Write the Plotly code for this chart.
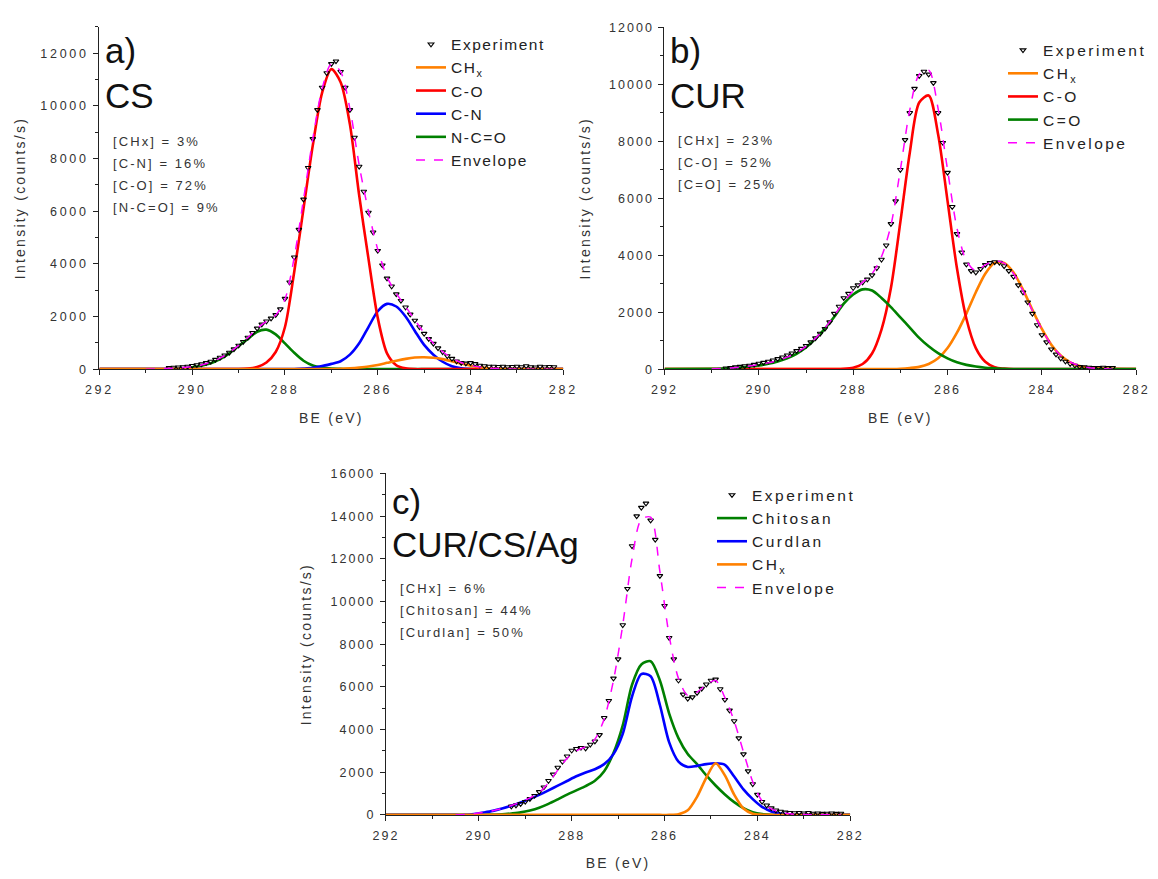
import numpy as np
import plotly.graph_objects as go

W, H = 1158, 879
FONT = "Liberation Sans, Arial, sans-serif"

# ---------------------------------------------------------------------------
# (a) CS  -- experimental C 1s points, 0.1 eV step from 290.5 eV
exp_a = [50, 60, 70, 80, 100, 130, 160, 190, 240, 290,
         360, 440, 530, 630, 760, 900, 1040, 1200, 1380, 1550,
         1700, 1820, 1930, 2060, 2280, 2680, 3300, 4250, 5300, 6450,
         7650, 8750, 9850, 10700, 11250, 11600, 11700, 11300, 10700, 9850,
         8800, 7700, 6750, 5950, 5200, 4500, 3950, 3450, 3150, 2850,
         2600, 2350, 2080, 1850, 1600, 1350, 1150, 970, 800, 650,
         500, 400, 300, 240, 220, 240, 200, 140, 120, 100,
         100, 90, 100, 80, 90, 100, 80, 120, 80, 70,
         100, 80, 90, 80]
exp_a_start = 290.5

# fitted components of (a) on a 0.2 eV grid from 291.0 to 283.0 eV
chx_a = [0, 0, 0, 0, 0, 0, 0, 0, 0, 0,
         0, 0, 0, 0, 0, 0, 0, 0, 0, 0,
         0, 10, 30, 60, 100, 160, 240, 320, 390, 440,
         450, 430, 380, 300, 210, 130, 70, 30, 10, 0, 0]
co_a = [0, 0, 0, 0, 0, 0, 0, 0, 0, 0,
        0, 20, 80, 250, 650, 1600, 3700, 6100, 8500, 10500,
        11400, 10900, 9300, 6600, 4200, 1950, 600, 150, 30, 0,
        0, 0, 0, 0, 0, 0, 0, 0, 0, 0, 0]
cn_a = [0, 0, 0, 0, 0, 0, 0, 0, 0, 0,
        0, 0, 0, 0, 0, 0, 0, 20, 50, 120,
        200, 300, 550, 980, 1600, 2200, 2480, 2380, 2000, 1450,
        920, 550, 280, 110, 30, 0, 0, 0, 0, 0, 0]
nco_a = [0, 0, 0, 10, 30, 70, 130, 220, 380, 600,
         880, 1150, 1420, 1500, 1320, 980, 620, 320, 140, 60,
         20, 10, 0, 0, 0, 0, 0, 0, 0, 0,
         0, 0, 0, 0, 0, 0, 0, 0, 0, 0, 0]
env_a = [0, 10, 20, 40, 60, 100, 160, 260, 420, 630,
         900, 1200, 1550, 1820, 2050, 2650, 4250, 6450, 8750, 10650,
         11600, 11300, 9900, 7750, 6000, 4550, 3500, 2880, 2380, 1870,
         1380, 980, 660, 420, 250, 140, 80, 40, 20, 10, 0]

# ---------------------------------------------------------------------------
# (b) CUR -- experimental points, 0.1 eV step from 290.7 eV
exp_b = [30, 50, 70, 90, 110, 130, 160, 200, 230, 270,
         310, 360, 420, 490, 560, 640, 720, 820, 950, 1090,
         1250, 1420, 1650, 1950, 2200, 2500, 2650, 2850, 2950, 3050,
         3150, 3300, 3550, 3850, 4350, 5100, 5900, 7000, 8050, 9000,
         9850, 10300, 10450, 10350, 10050, 9000, 7950, 6900, 5700, 4750,
         4100, 3680, 3450, 3400, 3520, 3660, 3730, 3760, 3740, 3620,
         3450, 3250, 2950, 2700, 2350, 1950, 1550, 1200, 950, 700,
         520, 380, 270, 190, 130, 80, 70, 60, 50, 50,
         60, 50, 50]
exp_b_start = 290.7

# fitted components of (b) on the 291.0 ... 283.0 eV grid
chx_b = [0, 0, 0, 0, 0, 0, 0, 0, 0, 0,
         0, 0, 0, 0, 0, 0, 0, 0, 0, 5,
         15, 40, 80, 180, 380, 740, 1280, 1950, 2700, 3350,
         3730, 3730, 3390, 2790, 2080, 1410, 860, 480, 240, 110, 50]
co_b = [0, 0, 0, 0, 0, 0, 0, 0, 0, 0,
        0, 0, 0, 0, 10, 50, 180, 550, 1390, 2850,
        5160, 7600, 9360, 9610, 8250, 5910, 3540, 1770, 740, 260,
        70, 20, 0, 0, 0, 0, 0, 0, 0, 0, 0]
cdo_b = [10, 20, 40, 60, 90, 130, 190, 270, 380, 540,
         760, 1060, 1420, 1840, 2300, 2620, 2800, 2760, 2500, 2180,
         1820, 1460, 1100, 800, 560, 380, 240, 150, 90, 50,
         30, 10, 0, 0, 0, 0, 0, 0, 0, 0, 0]
env_b = [10, 20, 40, 70, 110, 160, 220, 300, 420, 580,
         800, 1080, 1440, 1880, 2350, 2750, 3050, 3350, 3950, 5050,
         7000, 9100, 10350, 10500, 9150, 7000, 4950, 3800, 3450, 3660,
         3800, 3720, 3350, 2750, 2050, 1400, 860, 480, 250, 120, 50]

# ---------------------------------------------------------------------------
# (c) CUR/CS/Ag -- experimental points, 0.1 eV step from 289.3 eV
exp_c = [400, 450, 520, 620, 750, 900, 1080, 1300, 1600, 1900,
         2220, 2500, 2750, 3020, 3100, 3150, 3120, 3300, 3450, 3750,
         4550, 5350, 6400, 7300, 8900, 10600, 12600, 14000, 14400, 14600,
         13800, 12900, 11200, 9800, 8300, 7300, 6300, 5650, 5450, 5520,
         5720, 5920, 6120, 6300, 6350, 5900, 5400, 4900, 4400, 3600,
         2850, 2050, 1450, 950, 620, 450, 320, 220, 160, 120,
         100, 90, 100, 80, 100, 70, 80, 60, 70, 80,
         60, 70]
exp_c_start = 289.3

# fitted components of (c) on a 0.2 eV grid from 290.5 to 283.1 eV
chitosan_c = [0, 0, 0, 10, 20, 30, 70, 120, 210, 340,
              520, 730, 950, 1150, 1350, 1600, 2050, 2900, 4200, 6100,
              7050, 7200, 6300, 4750, 3600, 2850, 2380, 1850, 1380, 960,
              600, 320, 130, 40, 10, 0, 0, 0]
curdlan_c = [0, 0, 40, 110, 190, 300, 430, 580, 750, 940,
             1150, 1370, 1590, 1810, 1990, 2140, 2380, 2850, 3800, 5550,
             6600, 6500, 5150, 3400, 2500, 2250, 2300, 2380, 2420, 2350,
             1800, 1200, 740, 380, 160, 60, 10, 0]
chx_c = [0, 0, 0, 0, 0, 0, 0, 0, 0, 0,
         0, 0, 0, 0, 0, 0, 0, 0, 0, 0,
         0, 0, 0, 0, 30, 220, 850, 1750, 2420, 1850,
         950, 300, 60, 10, 0, 0, 0, 0]
env_c = [0, 20, 60, 120, 200, 300, 440, 600, 800, 1050,
         1500, 2100, 2650, 3000, 3200, 3550, 4500, 6300, 8900, 12000,
         13850, 13950, 11400, 8400, 6400, 5600, 5750, 6100, 6300, 5500,
         4400, 2950, 1550, 650, 280, 120, 50, 20]

X_TICKS = [292, 290, 288, 286, 284, 282]
Y_MAX = {"a": 13000, "b": 12000, "c": 16000}
PANEL_TAGS = {"a": ("a)", "CS"), "b": ("b)", "CUR"), "c": ("c)", "CUR/CS/Ag")}
STATS = {
    "a": ["[CHx] = 3%", "[C-N] = 16%", "[C-O] = 72%", "[N-C=O] = 9%"],
    "b": ["[CHx] = 23%", "[C-O] = 52%", "[C=O] = 25%"],
    "c": ["[CHx] = 6%", "[Chitosan] = 44%", "[Curdlan] = 50%"],
}
X_TITLE = "BE (eV)"
Y_TITLE = "Intensity (counts/s)"

ORANGE, RED, BLUE, GREEN, MAGENTA = "#FF8000", "#FF0000", "#0000FF", "#008000", "#FF00FF"

# ---------------------------------------------------------------------------
def grid(start, n, step):
    return np.round(start - step * np.arange(n), 2)


be_exp = {
    "a": grid(exp_a_start, len(exp_a), 0.1),
    "b": grid(exp_b_start, len(exp_b), 0.1),
    "c": grid(exp_c_start, len(exp_c), 0.1),
}
be_fit = {
    "a": grid(291.0, len(co_a), 0.2),
    "b": grid(291.0, len(co_b), 0.2),
    "c": grid(290.5, len(chx_c), 0.2),
}
exp_vals = {"a": exp_a, "b": exp_b, "c": exp_c}
env_vals = {"a": env_a, "b": env_b, "c": env_c}

# components: (name, values, colour, legend rank); drawn in list order
components = {
    "a": [("N-C=O", nco_a, GREEN, 5), ("C-N", cn_a, BLUE, 4),
          ("C-O", co_a, RED, 3), ("CH<sub>x</sub>", chx_a, ORANGE, 2)],
    "b": [("CH<sub>x</sub>", chx_b, ORANGE, 2), ("C-O", co_b, RED, 3),
          ("C=O", cdo_b, GREEN, 4)],
    "c": [("Chitosan", chitosan_c, GREEN, 2), ("Curdlan", curdlan_c, BLUE, 3),
          ("CH<sub>x</sub>", chx_c, ORANGE, 4)],
}

# plot-area boxes in pixels: left, right, top, bottom
BOX = {"a": (91, 563, 20.3, 368), "b": (666, 1146, 20.7, 368), "c": (382.6, 855, 474, 821)}
AX = {"a": ("x", "y", 1, 4), "b": ("x2", "y2", 2, 5), "c": ("x3", "y3", 3, 6)}
LEG = {"a": ("legend", 411, 21), "b": ("legend2", 1003, 27), "c": ("legend3", 712, 479)}


def px_x(v):
    return v / W


def px_y(v):
    return 1 - v / H


fig = go.Figure()
for p in "abc":
    xa, ya, n, m = AX[p]
    leg = LEG[p][0]
    xs = [292.0] + list(be_fit[p]) + [282.0]
    for name, vals, col, rank in components[p]:
        fig.add_trace(go.Scatter(
            x=xs, y=[0] + list(vals) + [0], mode="lines", name=name,
            line=dict(color=col, width=2.6, shape="spline", smoothing=0.8),
            xaxis=xa, yaxis=ya, legend=leg, legendrank=rank, hoverinfo="skip"))
    fig.add_trace(go.Scatter(
        x=be_exp[p], y=exp_vals[p], mode="markers", name="Experiment",
        marker=dict(symbol="triangle-down-open", size=5, color="black",
                    line=dict(width=1.1, color="black")),
        xaxis=xa, yaxis=ya, legend=leg, legendrank=1, hoverinfo="skip"))
    env_x = list(be_fit[p]) + [float(be_exp[p][-1])]
    fig.add_trace(go.Scatter(
        x=env_x, y=list(env_vals[p]) + [0], mode="lines", name="Envelope",
        line=dict(color=MAGENTA, width=1.5, dash="dash", shape="spline", smoothing=0.8),
        xaxis=xa, yaxis=ya, legend=leg, legendrank=10, hoverinfo="skip"))

tick_font = dict(family=FONT, size=12.5, color="#333333")
title_font = dict(family=FONT, size=14, color="#333333")
layout = dict(width=W, height=H, margin=dict(l=0, r=0, t=0, b=0),
              paper_bgcolor="white", plot_bgcolor="white", showlegend=True)
annotations = []
for p in "abc":
    l, r, t, b = BOX[p]
    xa, ya, n, m = AX[p]
    sx = "" if n == 1 else str(n)
    xdom = [px_x(l), px_x(r)]
    ydom = [px_y(b), px_y(t)]
    common = dict(showgrid=False, zeroline=False, showline=True, linecolor="#222",
                  linewidth=1.3, tickcolor="#222", tickwidth=1.2, tickfont=tick_font)
    layout["xaxis" + sx] = dict(
        domain=xdom, anchor="y" + sx, range=[292, 282], autorange=False,
        tickmode="array", tickvals=X_TICKS, ticktext=[str(v) for v in X_TICKS],
        ticks="outside", ticklen=5, ticklabelstandoff=4,
        title=dict(text=X_TITLE, font=title_font, standoff=16),
        minor=dict(ticks="outside", ticklen=3, dtick=1, tick0=292, tickcolor="#222"),
        **common)
    layout["yaxis" + sx] = dict(
        domain=ydom, anchor="x" + sx, range=[0, Y_MAX[p]], autorange=False,
        dtick=2000, tick0=0, tickformat="d", ticks="outside", ticklen=5,
        ticklabelstandoff=2,
        title=dict(text=Y_TITLE, font=title_font, standoff=25),
        minor=dict(ticks="outside", ticklen=3, dtick=1000, tickcolor="#222"),
        **common)
    # mirrored frame sides with inward ticks
    layout["xaxis" + str(m)] = dict(
        overlaying="x" + sx, anchor="y" + sx, side="top", range=[292, 282],
        autorange=False, tickmode="array", tickvals=X_TICKS,
        ticktext=[str(v) for v in X_TICKS], ticks="inside", ticklen=5,
        showticklabels=False,
        minor=dict(ticks="inside", ticklen=3, dtick=1, tick0=292, tickcolor="#222"),
        **common)
    layout["yaxis" + str(m)] = dict(
        overlaying="y" + sx, anchor="x" + sx, side="right", range=[0, Y_MAX[p]],
        autorange=False, dtick=2000, tick0=0, tickformat="d", ticks="inside", ticklen=5,
        showticklabels=False,
        minor=dict(ticks="inside", ticklen=3, dtick=1000, tickcolor="#222"),
        **common)

    leg, lx, ly = LEG[p]
    layout[leg] = dict(x=px_x(lx), y=px_y(ly), xanchor="left", yanchor="top",
                       bgcolor="rgba(0,0,0,0)", borderwidth=0, traceorder="normal",
                       font=dict(family=FONT, size=15.5, color="#222"),
                       itemclick=False, itemdoubleclick=False)

    # panel letter and sample name
    tag, sample = PANEL_TAGS[p]
    tag_y = {"a": 44, "b": 44, "c": 502}[p]
    name_y = {"a": 90, "b": 90, "c": 546}[p]
    for txt, yy in ((tag, tag_y), (sample, name_y)):
        annotations.append(dict(x=px_x(l + 4), y=px_y(yy), xref="paper", yref="paper",
                                text=txt, showarrow=False, xanchor="left", align="left",
                                yanchor="middle",
                                font=dict(family=FONT, size=35, color="#111")))
    # composition text
    first = {"a": 136.5, "b": 136, "c": 591}[p]
    for i, line in enumerate(STATS[p]):
        annotations.append(dict(x=px_x(l + 12), y=px_y(first + 22.4 * i), xref="paper",
                                yref="paper", text=line, showarrow=False,
                                xanchor="left", align="left", yanchor="middle",
                                font=dict(family=FONT, size=13, color="#333")))

layout["annotations"] = annotations
fig.update_layout(**layout)

# wide character tracking for the small labels; legends kept at their set spots
post = """
var LEGEND_LEFT = {legend: %d, legend2: %d, legend3: %d};
function trackText(){
  Object.keys(LEGEND_LEFT).forEach(function(k){
    var g = document.querySelector('g.' + k);
    if (!g) { return; }
    g.removeAttribute('clip-path');
    g.querySelectorAll('[clip-path]').forEach(function(e){ e.removeAttribute('clip-path'); });
    var tr = g.getAttribute('transform') || '';
    var m = tr.match(/translate\\(([-0-9.e]+)[ ,]+([-0-9.e]+)\\)/);
    if (m) { g.setAttribute('transform', 'translate(' + LEGEND_LEFT[k] + ',' + m[2] + ')'); }
  });
  document.querySelectorAll('svg text').forEach(function(t){
    if (!t.textContent.trim()) { t.parentNode.removeChild(t); return; }
    var fs = parseFloat(t.style.fontSize);
    if (!fs || fs >= 20) { return; }
    var sp = '0.16em';
    if (t.classList.contains('legendtext')) { sp = '0.1em'; }
    else if (t.closest('.xtick') || t.closest('.ytick')) { sp = '0.22em'; }
    t.style.letterSpacing = sp;
  });
}
trackText();
var gd = document.getElementById('{plot_id}');
if (gd && gd.on) { gd.on('plotly_afterplot', trackText); }
""" % (LEG["a"][1], LEG["b"][1], LEG["c"][1])

fig.write_html("out.html", config={"displayModeBar": False}, post_script=post)
